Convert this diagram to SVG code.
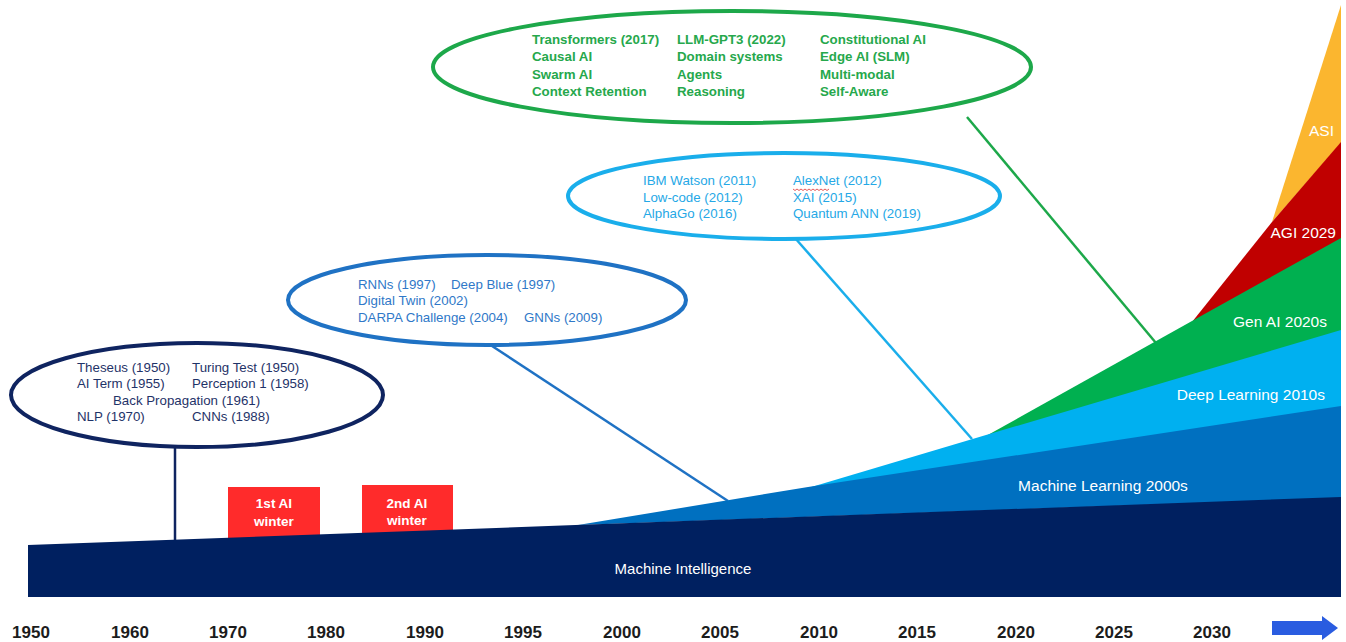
<svg xmlns="http://www.w3.org/2000/svg" width="1346" height="642" viewBox="0 0 1346 642">
<style>
text{font-family:"Liberation Sans",Arial,sans-serif}
.t1{font-size:13.3px;fill:#1F3368}
.t2{font-size:13.3px;fill:#2F78C8}
.t3{font-size:13.3px;fill:#25A8E6}
.t4{font-size:13.3px;font-weight:bold;fill:#26A84C}
.lay{font-size:15.5px;fill:#fff}
.win{font-size:13.5px;font-weight:bold;fill:#fff;text-anchor:middle}
.yr{font-size:17px;font-weight:bold;fill:#1c1c1c;text-anchor:middle}
.ell{fill:none;stroke-width:4}
.con{fill:none;stroke-width:2.5}
</style>
<rect width="1346" height="642" fill="#fff"/>

<g id="winter1"><rect x="228" y="487" width="92" height="55" fill="#FF2B2B"/><text class="win" x="274" y="508">1st AI</text><text class="win" x="274" y="526">winter</text></g>
<g id="winter2"><rect x="362" y="485" width="91" height="55" fill="#FF2B2B"/><text class="win" x="407" y="508">2nd AI</text><text class="win" x="407" y="525">winter</text></g>

<g id="connectors">
<line class="con" x1="175" y1="446" x2="175" y2="542" stroke="#0F2460"/>
<line class="con" x1="489" y1="344" x2="728" y2="501" stroke="#1F72C4"/>
<line class="con" x1="795" y1="238" x2="972" y2="439" stroke="#1AAEEB"/>
<line class="con" x1="967" y1="117" x2="1156" y2="343" stroke="#1DA84A"/>
</g>

<g id="asi"><polygon points="1272,222 1341,5 1341,143" fill="#FBB62F"/><text class="lay" x="1334" y="136" text-anchor="end">ASI</text></g>
<g id="agi"><polygon points="1192,322 1272,222 1341,142 1341,239" fill="#C00000"/><text class="lay" x="1336" y="238" text-anchor="end">AGI 2029</text></g>
<g id="genai"><polygon points="986,436 1192,321 1341,238 1341,331" fill="#00B050"/><text class="lay" x="1327" y="327" text-anchor="end">Gen AI 2020s</text></g>
<g id="deeplearning"><polygon points="808,488 986,435 1341,330 1341,407" fill="#00B0F0"/><text class="lay" x="1325" y="400" text-anchor="end">Deep Learning 2010s</text></g>
<g id="machinelearning"><polygon points="578,525 808,487 1341,406 1341,498" fill="#0070C0"/><text class="lay" x="1103" y="491" text-anchor="middle">Machine Learning 2000s</text></g>
<g id="machineintelligence"><polygon points="28,545 1341,497 1341,597 28,597" fill="#002060"/><text class="lay" x="683" y="574" text-anchor="middle" style="font-size:15px">Machine Intelligence</text></g>

<g id="era1">
<ellipse class="ell" cx="197" cy="395" rx="186" ry="52" stroke="#0F2460"/>
<text class="t1" x="77" y="372">Theseus (1950)</text><text class="t1" x="192" y="372">Turing Test (1950)</text>
<text class="t1" x="77" y="388">AI Term (1955)</text><text class="t1" x="192" y="388">Perception 1 (1958)</text>
<text class="t1" x="113" y="405">Back Propagation (1961)</text>
<text class="t1" x="77" y="421">NLP (1970)</text><text class="t1" x="192" y="421">CNNs (1988)</text>
</g>

<g id="era2">
<ellipse class="ell" cx="487" cy="300" rx="199" ry="45" stroke="#1F72C4"/>
<text class="t2" x="358" y="289">RNNs (1997)</text><text class="t2" x="451" y="289">Deep Blue (1997)</text>
<text class="t2" x="358" y="305">Digital Twin (2002)</text>
<text class="t2" x="358" y="322">DARPA Challenge (2004)</text><text class="t2" x="524" y="322">GNNs (2009)</text>
</g>

<g id="era3">
<ellipse class="ell" cx="784" cy="196" rx="216" ry="43" stroke="#1AAEEB"/>
<text class="t3" x="643" y="185">IBM Watson (2011)</text><text class="t3" x="793" y="185">AlexNet (2012)</text>
<path d="M793,189 l2,1.5 l2,-1.5 l2,1.5 l2,-1.5 l2,1.5 l2,-1.5 l2,1.5 l2,-1.5 l2,1.5 l2,-1.5 l2,1.5 l2,-1.5 l2,1.5 l2,-1.5 l2,1.5 l2,-1.5 l2,1.5 l2,-1.5" fill="none" stroke="#E03030" stroke-width="0.8"/>
<text class="t3" x="643" y="202">Low-code (2012)</text><text class="t3" x="793" y="202">XAI (2015)</text>
<text class="t3" x="643" y="218">AlphaGo (2016)</text><text class="t3" x="793" y="218">Quantum ANN (2019)</text>
</g>

<g id="era4">
<ellipse class="ell" cx="732" cy="67" rx="299" ry="56" stroke="#1DA84A"/>
<text class="t4" x="532" y="44">Transformers (2017)</text><text class="t4" x="677" y="44">LLM-GPT3 (2022)</text><text class="t4" x="820" y="44">Constitutional AI</text>
<text class="t4" x="532" y="61">Causal AI</text><text class="t4" x="677" y="61">Domain systems</text><text class="t4" x="820" y="61">Edge AI (SLM)</text>
<text class="t4" x="532" y="79">Swarm AI</text><text class="t4" x="677" y="79">Agents</text><text class="t4" x="820" y="79">Multi-modal</text>
<text class="t4" x="532" y="96">Context Retention</text><text class="t4" x="677" y="96">Reasoning</text><text class="t4" x="820" y="96">Self-Aware</text>
</g>

<g id="axis">
<text class="yr" x="31" y="638">1950</text>
<text class="yr" x="130" y="638">1960</text>
<text class="yr" x="228" y="638">1970</text>
<text class="yr" x="326" y="638">1980</text>
<text class="yr" x="425" y="638">1990</text>
<text class="yr" x="523" y="638">1995</text>
<text class="yr" x="622" y="638">2000</text>
<text class="yr" x="720" y="638">2005</text>
<text class="yr" x="819" y="638">2010</text>
<text class="yr" x="917" y="638">2015</text>
<text class="yr" x="1016" y="638">2020</text>
<text class="yr" x="1114" y="638">2025</text>
<text class="yr" x="1212" y="638">2030</text>
<polygon points="1272,621 1322,621 1322,616 1338,628 1322,640 1322,635 1272,635" fill="#2A5CE0"/>
</g>
</svg>
